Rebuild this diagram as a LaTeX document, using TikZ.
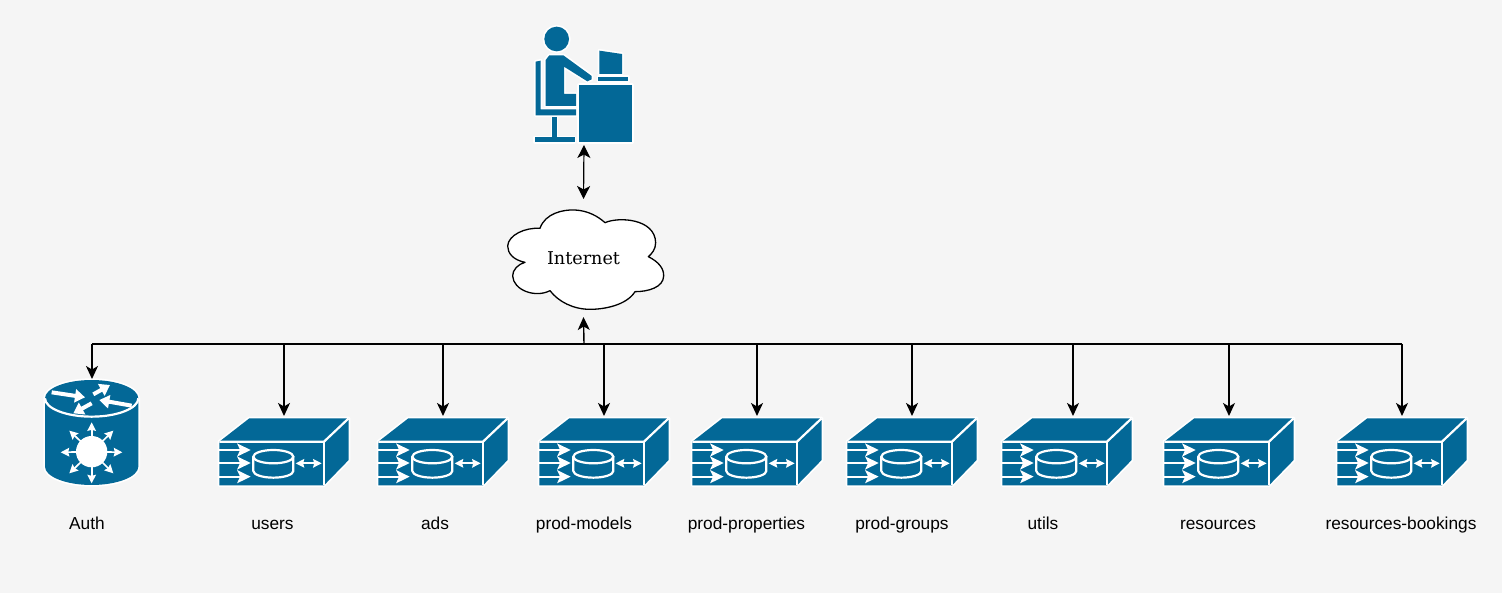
\documentclass[tikz,border=0pt]{standalone}
\usepackage{fontspec}
\setmainfont{Liberation Sans}
\newfontfamily\serifcloud{DejaVu Serif}
\usetikzlibrary{arrows.meta}
\definecolor{icon}{HTML}{036897}
\definecolor{bg}{HTML}{F5F5F5}
\tikzset{
  x=1pt,y=-1pt,
  arr/.style={draw=black,line width=1.4pt,-{Stealth[length=13pt,width=12pt,inset=3.5pt]}},
  dblarr/.style={draw=black,line width=1.2pt,{Stealth[length=13pt,width=13pt,inset=3.5pt]}-{Stealth[length=13pt,width=13pt,inset=3.5pt]}},
  busline/.style={draw=black,line width=1.5pt},
  hold/.style={inner sep=0pt,outer sep=0pt,draw=none},
  lbl/.style={inner sep=0pt,anchor=base,font=\fontsize{17.3}{20}\selectfont},
  shape icon/.style={draw=white,line width=3.4pt,line join=round,postaction={draw=none,fill=icon}},
  wline/.style={draw=white,line width=2.2pt},
  warr/.style={draw=white,line width=1.7pt,-{Stealth[length=8.5pt,width=8.5pt,inset=1pt]}},
  sarr/.style={draw=white,line width=1.8pt,-{Stealth[length=13.5pt,width=13pt,inset=3pt]}},
  topar/.style={draw=white,line width=4pt,-{Stealth[length=10pt,width=13pt,inset=0pt]}},
  scaled3/.style={x=0.33333pt,y=-0.33333pt},
  srv/.pic={
    \begin{scope}[scaled3]
      \path[shape icon] (118,55) -- (416,55) -- (416,180) -- (342,256) -- (28,256) -- (28,125) -- cycle;
      \draw[wline] (28,125) -- (342,125) -- (416,55);
      \draw[wline] (342,125) -- (342,256);
      \draw[sarr] (28,150) -- (122,150);
      \draw[sarr] (28,189) -- (122,189);
      \draw[sarr] (28,230) -- (122,230);
      \path[wline] (130,170) -- (130,213) .. controls (130,224) and (157,233) .. (190,233) .. controls (223,233) and (250,224) .. (250,213) -- (250,170);
      \path[wline] (190,170) ellipse[x radius=60,y radius=20];
      \draw[draw=white,line width=1.8pt,{Stealth[length=8.5pt,width=8.5pt,inset=1pt]}-{Stealth[length=8.5pt,width=8.5pt,inset=1pt]}] (257,190) -- (335,190);
    \end{scope}
  }
}
% name, left edge of the icon, x of the incoming arrow
\newcommand{\srvbox}[3]{%
  \pic at (#2-9,400) {srv};
  \node[hold,minimum width=129pt,minimum height=70pt] (#1) at (#3,451) {};
}
\begin{document}
\begin{tikzpicture}
\useasboundingbox[fill=bg] (0,0) rectangle (1502,593);

% person at desk
\begin{scope}[shift={(500,10)},scaled3]
  \path[shape icon] (170,87) circle[radius=37];
  \path[shape icon] (137,150) -- (148,136) -- (190,136) -- (275,198) -- (275,208) -- (262,214) -- (192,170) -- (192,252) -- (228,252) -- (228,288) -- (137,288) -- cycle;
  \path[shape icon] (107,155) -- (122,152) -- (122,298) -- (228,298) -- (228,316) -- (107,316) -- cycle;
  \path[shape icon] (157,322) rectangle (170,385);
  \path[shape icon] (105,382) rectangle (224,397);
  \path[fill=icon] (157,322) rectangle (170,385);
  \path[shape icon] (237,225) rectangle (397,397);
  \path[shape icon] (298,122) -- (366,132) -- (366,192) -- (298,192) -- cycle;
  \path[shape icon] (295,201) rectangle (385,213);
\end{scope}
\node[hold,minimum width=100pt,minimum height=121pt] (user) at (584,84.5) {};

% cloud
\begin{scope}[shift={(495,200)},scaled3]
  \path[fill=white,draw=black,line width=1.3pt,line join=round]
    (135,85) .. controls (150,40) and (205,28) .. (240,30)
    .. controls (280,32) and (310,50) .. (330,68)
    .. controls (370,50) and (480,55) .. (482,128)
    .. controls (482,148) and (470,162) .. (460,170)
    .. controls (490,185) and (507,205) .. (506,228)
    .. controls (505,262) and (460,275) .. (420,275)
    .. controls (395,315) and (330,328) .. (285,328)
    .. controls (235,328) and (190,305) .. (165,272)
    .. controls (120,295) and (55,270) .. (53,228)
    .. controls (52,210) and (70,192) .. (90,187)
    .. controls (55,180) and (38,160) .. (38,138)
    .. controls (40,105) and (90,82) .. (135,85) -- cycle;
\end{scope}
\node[hold,minimum width=160pt,minimum height=118pt,font=\serifcloud\fontsize{17.6}{20}\selectfont] (cloud) at (583.5,258) {Internet};

% router
\begin{scope}[shift={(30,335)},scaled3]
  \path[shape icon] (45,190) -- (45,395) .. controls (45,425) and (108,450) .. (185,450) .. controls (262,450) and (325,425) .. (325,395) -- (325,190) .. controls (325,160) and (262,135) .. (185,135) .. controls (108,135) and (45,160) .. (45,190) -- cycle;
  \path[wline] (45,190) .. controls (45,220) and (108,245) .. (185,245) .. controls (262,245) and (325,220) .. (325,190);
  \draw[topar] (65,172) -- (165,187);
  \draw[topar] (190,178) -- (240,150);
  \draw[topar] (305,212) -- (208,195);
  \draw[topar] (185,205) -- (130,235);
  \fill[white] (185,350) circle[radius=47];
  \foreach \ex/\ey in {185/262,250/287,277/352,250/415,185/445,118/415,92/352,118/287}
    \draw[warr] (185,350) -- (\ex,\ey);
\end{scope}
\node[hold,minimum width=94pt,minimum height=108pt] (auth) at (92,433) {};

% servers
\srvbox{users}{219}{284}
\srvbox{ads}{378}{443}
\srvbox{models}{539}{604}
\srvbox{props}{692}{757}
\srvbox{groups}{847}{912}
\srvbox{utils}{1002}{1073}
\srvbox{resources}{1164}{1229}
\srvbox{bookings}{1337}{1402}

% connectors
\coordinate (bus) at (584,344);
\draw[busline,-] (bus) -- (auth.north |- bus);
\draw[busline,-] (bus) -- (bookings.north |- bus);
\draw[dblarr] (user.south) -- (cloud.north);
\draw[arr] (bus) -- (cloud.south);
\foreach \t in {auth,users,ads,models,props,groups,utils,resources,bookings}
  \draw[arr] (\t.north |- bus) -- (\t.north);

% labels
\node[lbl] (lauth) at (87,529) {Auth};
\node[lbl] (lusers) at (272.5,529) {users};
\node[lbl] (lads) at (435,529) {ads};
\node[lbl] (lmodels) at (584,529) {prod-models};
\node[lbl] (lprops) at (746.5,529) {prod-properties};
\node[lbl] (lgroups) at (902,529) {prod-groups};
\node[lbl] (lutils) at (1043,529) {utils};
\node[lbl] (lres) at (1218,529) {resources};
\node[lbl] (lbook) at (1401,529) {resources-bookings};
\end{tikzpicture}
\end{document}
